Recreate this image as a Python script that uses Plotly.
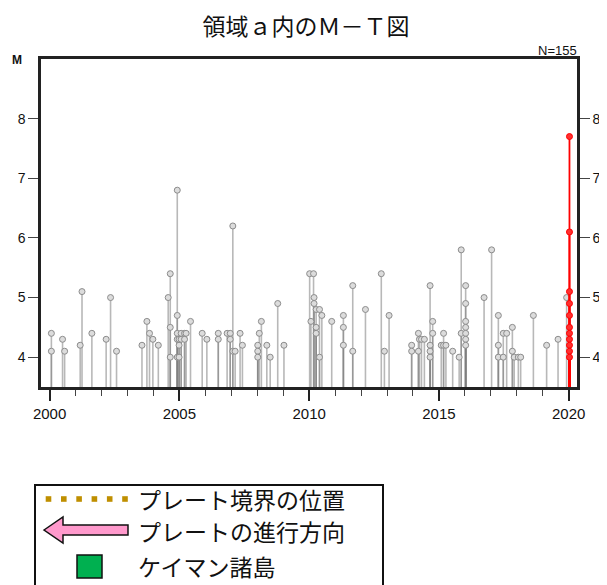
import plotly.graph_objects as go

# ---- data ----
gray_years = [
    2000.07, 2000.07, 2000.50, 2000.58, 2001.18, 2001.25, 2001.63, 2002.18, 2002.35, 2002.58,
    2003.56, 2003.75, 2003.85, 2003.98, 2004.19, 2004.57, 2004.65, 2004.65, 2004.65,
    2004.92, 2004.92, 2004.92, 2004.92, 2004.92, 2004.99, 2004.99, 2004.99,
    2005.07, 2005.07, 2005.20, 2005.20, 2005.26, 2005.43, 2005.88, 2006.06,
    2006.50, 2006.50, 2006.84, 2006.96, 2006.96, 2007.06, 2007.06, 2007.15, 2007.34, 2007.43,
    2008.02, 2008.02, 2008.02, 2008.08, 2008.16, 2008.37, 2008.50, 2008.79, 2009.03,
    2010.02, 2010.07, 2010.17, 2010.19, 2010.19, 2010.27, 2010.27, 2010.27, 2010.40, 2010.40,
    2010.49, 2010.87, 2011.32, 2011.32, 2011.32, 2011.68, 2011.68, 2012.17, 2012.78, 2012.90,
    2013.08, 2013.95, 2013.95, 2014.21, 2014.21, 2014.25, 2014.33, 2014.44,
    2014.66, 2014.66, 2014.66, 2014.66, 2014.76, 2014.76, 2015.09, 2015.18, 2015.18, 2015.27,
    2015.53, 2015.78, 2015.86, 2015.86,
    2016.03, 2016.03, 2016.03, 2016.03, 2016.03, 2016.03, 2016.03,
    2016.74, 2017.03, 2017.29, 2017.29, 2017.29, 2017.48, 2017.48, 2017.61, 2017.83, 2017.83,
    2017.90, 2018.06, 2018.15, 2018.64, 2019.15, 2019.59, 2019.92,
]
gray_mags = [
    4.4, 4.1, 4.3, 4.1, 4.2, 5.1, 4.4, 4.3, 5.0, 4.1,
    4.2, 4.6, 4.4, 4.3, 4.2, 5.0, 5.4, 4.5, 4.0,
    6.8, 4.7, 4.4, 4.3, 4.0, 4.3, 4.2, 4.0,
    4.4, 4.3, 4.4, 4.3, 4.4, 4.6, 4.4, 4.3,
    4.4, 4.3, 4.4, 4.4, 4.3, 6.2, 4.1, 4.1, 4.4, 4.2,
    4.2, 4.1, 4.0, 4.4, 4.6, 4.2, 4.0, 4.9, 4.2,
    5.4, 4.6, 5.4, 5.0, 4.9, 4.8, 4.5, 4.4, 4.8, 4.0,
    4.7, 4.6, 4.7, 4.5, 4.2, 5.2, 4.1, 4.8, 5.4, 4.1,
    4.7, 4.2, 4.1, 4.4, 4.1, 4.3, 4.3, 4.3,
    5.2, 4.2, 4.1, 4.0, 4.6, 4.4, 4.2, 4.4, 4.2, 4.2,
    4.1, 4.0, 5.8, 4.4,
    5.2, 4.9, 4.6, 4.5, 4.4, 4.3, 4.2,
    5.0, 5.8, 4.7, 4.2, 4.0, 4.4, 4.0, 4.4, 4.5, 4.1,
    4.0, 4.0, 4.0, 4.7, 4.2, 4.3, 5.0,
]
red_years = [2020.03] * 11
red_mags = [7.7, 6.1, 5.1, 4.9, 4.7, 4.5, 4.4, 4.3, 4.2, 4.1, 4.0]

x_range = [1999.67, 2020.32]
y_range = [3.5, 9.0]
y_ticks = [4, 5, 6, 7, 8]
x_ticks = [2000, 2005, 2010, 2015, 2020]
title_text = "領域ａ内のＭ－Ｔ図"
count_text = "N=155"
legend_labels = ["プレート境界の位置", "プレートの進行方向", "ケイマン諸島"]

# page is drawn inside the default 8px body margin
OFF = 8
PAGE_W, PAGE_H = 607, 585
W, H = PAGE_W - OFF, PAGE_H - OFF
PL, PT, PR, PB = 41, 59, 577, 387          # plot box in page pixels
ML, MT = PL - OFF, PT - OFF
PW, PH = PR - PL, PB - PT
MR, MB = W - ML - PW, H - MT - PH


def xp(px):
    return (px - PL) / PW


def yp(py):
    return (PB - py) / PH


base = y_range[0]
fig = go.Figure()

fig.add_trace(go.Scatter(
    x=gray_years, y=gray_mags, mode="markers",
    marker=dict(size=6, color="#dcdcdc", line=dict(color="#8c8c8c", width=1)),
    error_y=dict(type="data", symmetric=False, array=[0] * len(gray_mags),
                 arrayminus=[m - base for m in gray_mags],
                 color="rgba(125,125,125,0.55)", thickness=1.6, width=0),
    hoverinfo="x+y", showlegend=False,
))
fig.add_trace(go.Scatter(
    x=red_years, y=red_mags, mode="markers",
    marker=dict(size=6, color="#ff3030", line=dict(color="#ff0000", width=1)),
    error_y=dict(type="data", symmetric=False, array=[0] * len(red_mags),
                 arrayminus=[m - base for m in red_mags],
                 color="#ff0000", thickness=1.8, width=0),
    hoverinfo="x+y", showlegend=False,
))
# dummy trace to activate right-hand axis
fig.add_trace(go.Scatter(x=[x_ticks[0]], y=[y_ticks[0]], yaxis="y2", mode="markers",
                         marker=dict(opacity=0), hoverinfo="skip", showlegend=False))

tick_font = dict(family="Liberation Sans, Arial, sans-serif", size=15, color="#111")
ytick_font = dict(family="Liberation Sans, Arial, sans-serif", size=14, color="#111")
fig.update_layout(
    width=W, height=H,
    margin=dict(l=ML, r=MR, t=MT, b=MB, pad=0, autoexpand=False),
    paper_bgcolor="white", plot_bgcolor="white",
    title=dict(text=title_text, x=(306 - OFF) / W, xanchor="center", y=1 - (27 - OFF) / H,
               yanchor="middle",
               font=dict(family="Noto Sans CJK JP", size=23, color="#111")),
    xaxis=dict(range=x_range, tickmode="array", tickvals=x_ticks, ticks="outside",
               ticklen=11, tickwidth=1.5, tickcolor="#222",
               minor=dict(dtick=1, tick0=2000, ticks="outside", ticklen=6, tickwidth=1.2, tickcolor="#444"),
               showline=True, linecolor="#222", linewidth=2.5, mirror=True,
               showgrid=False, zeroline=False, tickfont=tick_font),
    yaxis=dict(range=y_range, tickmode="array", tickvals=y_ticks, ticks="outside",
               ticklen=10, tickwidth=1.2, tickcolor="#444",
               showline=True, linecolor="#222", linewidth=2.5, mirror=True,
               showgrid=False, zeroline=False, tickfont=ytick_font),
    yaxis2=dict(range=y_range, overlaying="y", side="right", tickmode="array", tickvals=y_ticks,
                ticks="outside", ticklen=10, tickwidth=1.2, tickcolor="#444",
                showline=True, linecolor="#222", linewidth=2.5, showgrid=False, zeroline=False,
                tickfont=ytick_font),
)

annotations = [
    dict(text="<b>M</b>", x=xp(17), y=yp(60), xref="paper", yref="paper", showarrow=False,
         xanchor="center", yanchor="middle",
         font=dict(family="Liberation Sans, Arial, sans-serif", size=12, color="#111")),
    dict(text=count_text, x=xp(579), y=yp(50), xref="paper", yref="paper", showarrow=False,
         xanchor="right", yanchor="middle",
         font=dict(family="Liberation Sans, Arial, sans-serif", size=13, color="#111")),
]
for label, py in zip(legend_labels, [499, 531, 566]):
    annotations.append(dict(text=label, x=xp(136), y=yp(py), xref="paper", yref="paper",
                            showarrow=False, xanchor="left", yanchor="middle",
                            font=dict(family="Noto Sans CJK JP", size=23, color="#111")))
fig.update_layout(annotations=annotations)

shapes = []
# legend box
shapes.append(dict(type="rect", xref="paper", yref="paper", x0=xp(35), x1=xp(383),
                   y0=yp(605), y1=yp(485), line=dict(color="#111", width=2), fillcolor="rgba(0,0,0,0)"))
# dotted plate boundary sample
for i in range(6):
    cx = 48.5 + 15.3 * i
    shapes.append(dict(type="rect", xref="paper", yref="paper", x0=xp(cx - 2.8), x1=xp(cx + 2.8),
                       y0=yp(499 + 2.8), y1=yp(499 - 2.8), line=dict(width=0), fillcolor="#bf8f00"))
# arrow
pts = [(44, 530), (63, 517), (63, 525), (128, 525), (128, 535), (63, 535), (63, 543)]
path = "M " + " L ".join(f"{xp(a):.5f},{yp(b):.5f}" for a, b in pts) + " Z"
shapes.append(dict(type="path", xref="paper", yref="paper", path=path,
                   fillcolor="#ff99cc", line=dict(color="#111", width=1.5)))
# green square
shapes.append(dict(type="rect", xref="paper", yref="paper", x0=xp(77), x1=xp(102),
                   y0=yp(578), y1=yp(555), fillcolor="#00b050", line=dict(color="#111", width=1.5)))
fig.update_layout(shapes=shapes)

fig.write_html("out.html")
